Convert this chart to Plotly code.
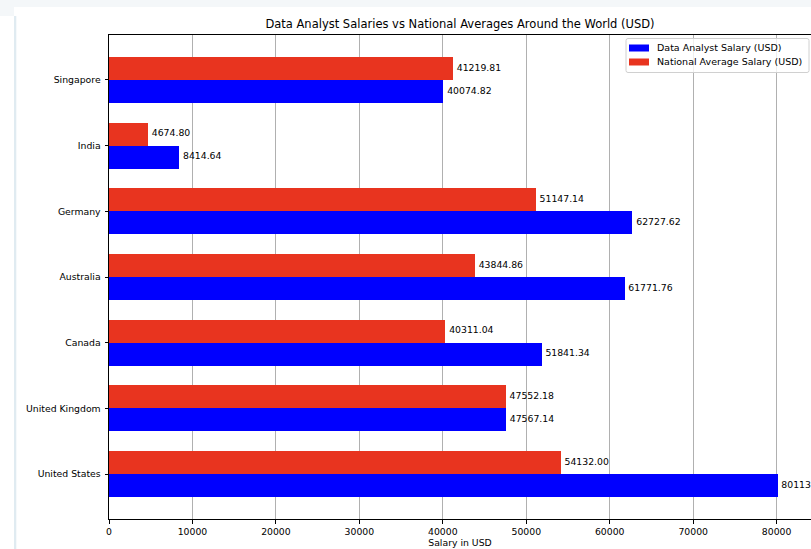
import plotly.graph_objects as go

countries = ["United States", "United Kingdom", "Canada", "Australia", "Germany", "India", "Singapore"]
analyst_salary = [80113.00, 47567.14, 51841.34, 61771.76, 62727.62, 8414.64, 40074.82]
national_avg = [54132.00, 47552.18, 40311.04, 43844.86, 51147.14, 4674.80, 41219.81]
xticks = [0, 10000, 20000, 30000, 40000, 50000, 60000, 70000, 80000]
series_names = ["Data Analyst Salary (USD)", "National Average Salary (USD)"]

BLUE = "#0000ff"
RED = "#e8341f"
W, H = 811, 549
L, R, T, B = 109, 811, 35, 519
FONT = "DejaVu Sans"
LABEL_PAD = 450  # gap between bar end and its value label, in axis units

pos = list(range(len(countries)))
bw = 0.35

fig = go.Figure()
fig.add_trace(go.Bar(
    y=pos, x=analyst_salary, orientation="h", width=bw, offset=-bw,
    marker=dict(color=BLUE, line=dict(width=0)), name=series_names[0], showlegend=False,
))
fig.add_trace(go.Bar(
    y=pos, x=national_avg, orientation="h", width=bw, offset=0,
    marker=dict(color=RED, line=dict(width=0)), name=series_names[1], showlegend=False,
))
fig.add_trace(go.Scatter(
    y=[p - bw / 2 for p in pos], x=[v + LABEL_PAD for v in analyst_salary], mode="text",
    text=[f"{v:.2f}" for v in analyst_salary], textposition="middle right",
    textfont=dict(family=FONT, size=9.3, color="#000000"),
    showlegend=False, cliponaxis=False, hoverinfo="skip",
))
fig.add_trace(go.Scatter(
    y=[p + bw / 2 for p in pos], x=[v + LABEL_PAD for v in national_avg], mode="text",
    text=[f"{v:.2f}" for v in national_avg], textposition="middle right",
    textfont=dict(family=FONT, size=9.3, color="#000000"),
    showlegend=False, cliponaxis=False, hoverinfo="skip",
))

def px_x(p):
    return (p - L) / (R - L)

def px_y(p):
    return (B - p) / (B - T)

def rounded_rect(x0, y0, x1, y1, r):
    X = lambda v: px_x(v)
    Y = lambda v: px_y(v)
    return (f"M {X(x0 + r)},{Y(y0)} L {X(x1 - r)},{Y(y0)} Q {X(x1)},{Y(y0)} {X(x1)},{Y(y0 + r)} "
            f"L {X(x1)},{Y(y1 - r)} Q {X(x1)},{Y(y1)} {X(x1 - r)},{Y(y1)} "
            f"L {X(x0 + r)},{Y(y1)} Q {X(x0)},{Y(y1)} {X(x0)},{Y(y1 - r)} "
            f"L {X(x0)},{Y(y0 + r)} Q {X(x0)},{Y(y0)} {X(x0 + r)},{Y(y0)} Z")

shapes = [
    dict(type="rect", xref="paper", yref="paper", x0=px_x(0), x1=px_x(W), y0=px_y(7), y1=px_y(0),
         fillcolor="#f4f7f9", line=dict(width=0), layer="below"),
    dict(type="rect", xref="paper", yref="paper", x0=px_x(0), x1=px_x(14), y0=px_y(16), y1=px_y(0),
         fillcolor="#f4f7f9", line=dict(width=0), layer="below"),
    dict(type="rect", xref="paper", yref="paper", x0=px_x(14), x1=px_x(16.3), y0=px_y(H), y1=px_y(16),
         fillcolor="#e0ebf1", line=dict(width=0), layer="below"),
    # legend frame
    dict(type="path", xref="paper", yref="paper", path=rounded_rect(626, 38.5, 809, 72.5, 2),
         fillcolor="rgba(255,255,255,0.8)", line=dict(color="#d0d0d0", width=1), layer="above"),
]

annotations = []
legend_rows = [(BLUE, series_names[0], 44.5, 51.5, 48), (RED, series_names[1], 58.5, 65.5, 62)]
for color, name, y0, y1, yc in legend_rows:
    shapes.append(dict(type="rect", xref="paper", yref="paper", x0=px_x(629), x1=px_x(649),
                       y0=px_y(y1), y1=px_y(y0), fillcolor=color, line=dict(width=0), layer="above"))
    annotations.append(dict(xref="paper", yref="paper", x=px_x(655), y=px_y(yc), xanchor="left",
                            yanchor="middle", text=name, showarrow=False,
                            font=dict(family=FONT, size=9.5, color="#000000")))

fig.update_layout(
    width=W, height=H,
    margin=dict(l=L, r=W - R, t=T, b=H - B, pad=0),
    paper_bgcolor="white", plot_bgcolor="white",
    barmode="overlay", bargap=0,
    font=dict(family=FONT, size=9.3, color="#000000"),
    title=dict(text="Data Analyst Salaries vs National Averages Around the World (USD)",
               x=(L + R) / 2 / W, xanchor="center", y=1 - 24 / H, yanchor="middle",
               font=dict(family=FONT, size=11.5, color="#000000")),
    xaxis=dict(range=[0, 80113.00 * 1.05], tickvals=xticks, ticktext=[str(t) for t in xticks],
               showgrid=True, gridcolor="#b0b0b0", gridwidth=0.8,
               showline=True, linecolor="#000000", linewidth=1, mirror=True,
               ticks="outside", ticklen=3.5, tickwidth=0.8, tickcolor="#000000",
               zeroline=False, layer="above traces",
               title=dict(text="Salary in USD", font=dict(family=FONT, size=9.3), standoff=2),
               tickfont=dict(family=FONT, size=9.3)),
    yaxis=dict(range=[-0.685, 6.685], tickvals=pos, ticktext=countries,
               showgrid=False, showline=True, linecolor="#000000", linewidth=1,
               ticks="outside", ticklen=3.5, tickwidth=0.8, tickcolor="#000000",
               zeroline=False, layer="above traces", ticklabelstandoff=2,
               tickfont=dict(family=FONT, size=9.3)),
    shapes=shapes,
    annotations=annotations,
    showlegend=False,
)

fig.write_html("out.html", config={"displayModeBar": False},
               post_script="document.body.style.margin='0px';")
